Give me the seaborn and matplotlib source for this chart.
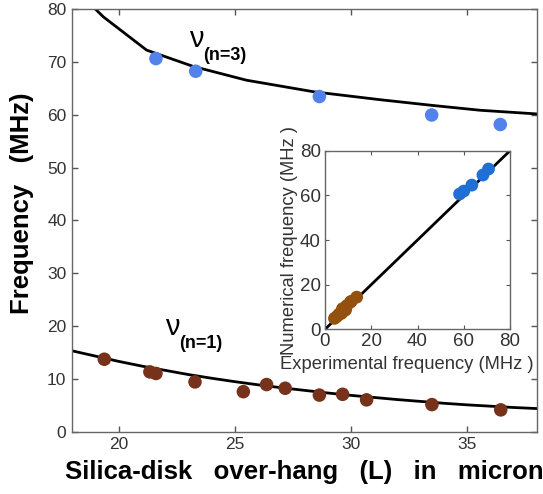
import matplotlib
matplotlib.use("Agg")
import matplotlib.pyplot as plt
import seaborn as sns
import pandas as pd

# ---- data ----
L_n3 = [21.61, 23.32, 28.64, 33.47, 36.42]
f_n3 = [70.7, 68.3, 63.5, 60.0, 58.2]

L_n1 = [19.39, 21.35, 21.61, 23.29, 25.37, 26.37, 27.17, 28.64, 29.64, 30.67, 33.48, 36.44]
f_n1 = [13.7, 11.3, 11.0, 9.4, 7.55, 8.9, 8.2, 6.9, 7.05, 6.0, 5.1, 4.1]

model_L_n3 = [19.0, 19.35, 21.21, 23.22, 25.5, 28.4, 31.25, 33.54, 35.55, 38.0]
model_f_n3 = [80.1, 78.6, 72.3, 69.2, 66.6, 64.4, 62.9, 61.8, 60.9, 60.2]

model_L_n1 = [18, 19, 20, 21, 22, 23, 24, 25, 26, 27, 28, 29, 30, 31, 32, 33, 34, 35, 36, 37, 38]
model_f_n1 = [15.3, 14.3, 13.3, 12.4, 11.6, 10.8, 10.1, 9.45, 8.85, 8.3, 7.8, 7.3, 6.85,
              6.45, 6.05, 5.7, 5.35, 5.05, 4.8, 4.55, 4.35]

# inset: experimental vs numerical
exp_n3 = [58.2, 60.0, 63.5, 68.3, 70.7]
num_n3 = [60.6, 61.9, 64.6, 69.1, 71.8]
exp_n1 = [13.7, 11.3, 11.0, 9.4, 7.55, 8.9, 8.2, 6.9, 7.05, 6.0, 5.1, 4.1]
num_n1 = [14.4, 12.5, 12.2, 10.6, 9.2, 8.7, 8.3, 7.5, 7.1, 6.7, 5.7, 4.9]
diag = [0, 80]

x_ticks = [20, 25, 30, 35]
y_ticks = [0, 10, 20, 30, 40, 50, 60, 70, 80]
inset_ticks = [0, 20, 40, 60, 80]

sns.set_theme(style="ticks")
plt.rcParams['font.family'] = ['Liberation Sans', 'DejaVu Sans']

fig = plt.figure(figsize=(5.43, 4.94), dpi=100)
ax = fig.add_axes([72/543, 1-431.5/494, (537-72)/543, (431.5-9.5)/494])

sns.lineplot(x=model_L_n3, y=model_f_n3, ax=ax, color='black', lw=2.0, sort=False)
sns.lineplot(x=model_L_n1, y=model_f_n1, ax=ax, color='black', lw=2.0, sort=False)
sns.scatterplot(x=L_n3, y=f_n3, ax=ax, color='#5282ea', s=95, edgecolor='none', zorder=3)
sns.scatterplot(x=L_n1, y=f_n1, ax=ax, color='#76321a', s=95, edgecolor='none', zorder=3)

ax.set_xlim(18, 38)
ax.set_ylim(0, 80)
ax.set_xticks(x_ticks)
ax.set_yticks(y_ticks)
ax.tick_params(direction='in', top=True, right=True, length=4, width=1, color='#555',
               labelsize=12.5, labelcolor='#333', pad=4)
for sp in ax.spines.values():
    sp.set_color('#666')
    sp.set_linewidth(1.0)
ax.set_xlabel('Silica-disk   over-hang   (L)   in   micron', fontsize=18.5, fontweight='bold',
              color='black', labelpad=6)
ax.set_ylabel('Frequency   (MHz)', fontsize=18.5, fontweight='bold', color='black')
ax.yaxis.set_label_coords(-0.082, 0.54)

ax.text(23.05, 72.9, 'ν', fontsize=21, color='black', ha='left', va='baseline')
ax.text(23.65, 70.4, '(n=3)', fontsize=13, fontweight='bold', color='black', ha='left', va='baseline')
ax.text(22.0, 18.3, 'ν', fontsize=21, color='black', ha='left', va='baseline')
ax.text(22.6, 15.8, '(n=1)', fontsize=13, fontweight='bold', color='black', ha='left', va='baseline')

# inset
ax2 = fig.add_axes([325/543, 1-329.3/494, 185/543, 178.6/494])
sns.lineplot(x=diag, y=diag, ax=ax2, color='black', lw=2.0)
sns.scatterplot(x=exp_n3, y=num_n3, ax=ax2, color='#1f6fd4', s=85, edgecolor='none', zorder=3)
sns.scatterplot(x=exp_n1, y=num_n1, ax=ax2, color='#93500f', s=85, edgecolor='none', zorder=3)
ax2.set_xlim(0, 80)
ax2.set_ylim(0, 80)
ax2.set_xticks(inset_ticks)
ax2.set_yticks(inset_ticks)
ax2.tick_params(direction='in', top=True, right=True, length=3, width=0.8, color='#555',
                labelsize=13.5, labelcolor='#333', pad=3)
for sp in ax2.spines.values():
    sp.set_color('#666')
    sp.set_linewidth(1.0)
ax2.set_xlabel('Experimental frequency (MHz )', fontsize=13.2, color='#333', labelpad=2)
ax2.xaxis.set_label_coords(0.44, -0.15)
ax2.set_ylabel('Numerical frequency (MHz )', fontsize=13.2, color='#333', labelpad=1)

fig.savefig('out.png', dpi=100)
